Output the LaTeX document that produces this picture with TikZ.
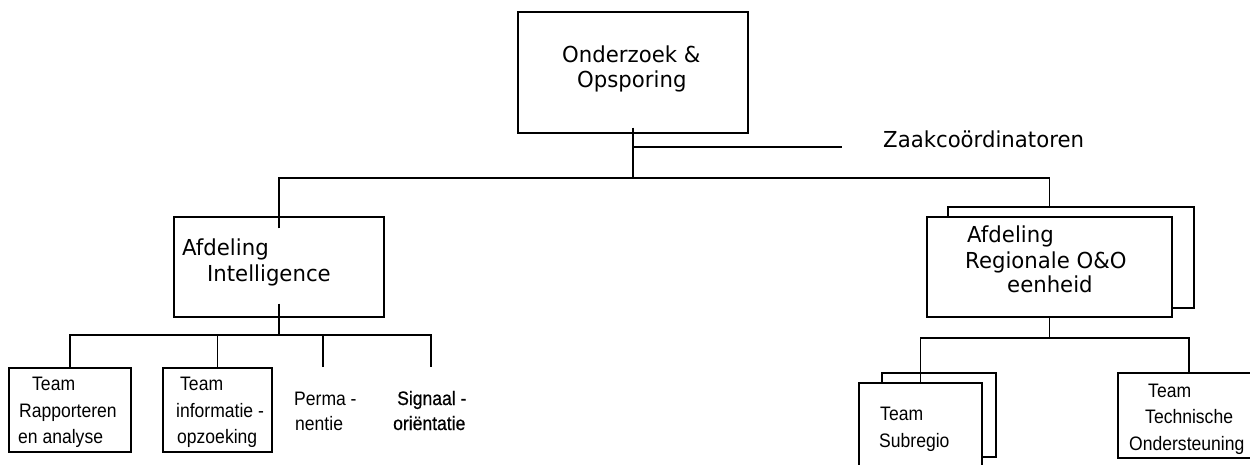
\documentclass[tikz,border=0pt]{standalone}
\usepackage{fontspec}
\setmainfont{DejaVu Sans}[FakeStretch=0.965]
\newfontfamily\arialf{Liberation Sans}[FakeStretch=0.9]
\newfontfamily\arialbf{Liberation Sans}[FakeStretch=0.9,FakeBold=0.6]
\tikzset{
  box/.style={draw, fill=white, line width=1.3pt, inner sep=0pt},
  lbl/.style={inner sep=0pt, anchor=base west, font=\fontsize{22}{25}\selectfont},
  albl/.style={inner sep=0pt, anchor=base west, font=\arialf\fontsize{19.5}{27}\selectfont},
  sbl/.style={inner sep=0pt, anchor=base west, font=\arialbf\fontsize{19.5}{27}\selectfont},
  conn/.style={line width=1.3pt},
}
\begin{document}
\begin{tikzpicture}[x=1pt,y=-1pt]
\fill[white] (0,0) rectangle (1250,465);
\clip (0,0) rectangle (1250,465);
% boxes
\node[box,minimum width=230pt,minimum height=121pt] (top) at (633,72.5) {};
\node[box,minimum width=210pt,minimum height=100pt] (A) at (279,267) {};
\node[box,minimum width=246pt,minimum height=101pt] (Rb) at (1071,257.5) {};
\node[box,minimum width=245pt,minimum height=100pt] (Rf) at (1049.5,267) {};
\node[box,minimum width=122pt,minimum height=84pt] (b1) at (70,410) {};
\node[box,minimum width=109pt,minimum height=84pt] (b2) at (217.5,410) {};
\node[box,minimum width=114pt,minimum height=84pt] (Sb) at (939,415) {};
\node[box,minimum width=123pt,minimum height=100pt] (Sf) at (920.5,433) {};
\node[box,minimum width=142pt,minimum height=85pt] (T) at (1189,415.5) {};
% junctions
\coordinate (j0) at (633,178);
\coordinate (jz) at (633,147);
\coordinate (zend) at (842,147);
\coordinate (jA) at (279,335);
\coordinate (pT) at (323,367);
\coordinate (sT) at (431,367);
\coordinate (jR) at (1049.5,338);
% connectors
\draw[conn] ([yshift=6pt]top.south) -- (j0);
\draw[conn] (jz) -- (zend);
\draw[conn] ([yshift=-12pt]A.north) |- (j0) -| (Rb.north -| Rf.north);
\draw[conn] ([yshift=14pt]A.south) -- (jA);
\draw[conn] (b1.north) |- (sT |- jA) -- (sT);
\draw[conn] (b2.north) -- (b2.north |- jA);
\draw[conn] (pT) -- (pT |- jA);
\draw[conn] (Rf.south) -- (jR);
\draw[conn] (Sf.north) |- (T.north |- jR) -- (T.north);
% texts
\node[lbl] (t1) at (562,63) {Onderzoek \&};
\node[lbl] (t2) at (577,88) {Opsporing};
\node[lbl] (zaak) at (883,148) {Zaakcoördinatoren};
\node[lbl] (a1) at (182,255.5) {Afdeling};
\node[lbl] (a2) at (207,281.5) {Intelligence};
\node[lbl] (r1) at (967,242) {Afdeling};
\node[lbl] (r2) at (965,268.5) {Regionale O\&O};
\node[lbl] (r3) at (1007,292) {eenheid};
\node[albl] (b1a) at (32,390) {Team};
\node[albl] (b1b) at (19,417) {Rapporteren};
\node[albl] (b1c) at (18,443) {en analyse};
\node[albl] (b2a) at (180,390) {Team};
\node[albl] (b2b) at (176,417) {informatie -};
\node[albl] (b2c) at (177,443) {opzoeking};
\node[albl] (p1) at (294,405) {Perma -};
\node[albl] (p2) at (295,430) {nentie};
\node[sbl] (s1) at (397,405) {Signaal -};
\node[sbl] (s2) at (393,430) {oriëntatie};
\node[albl] (sa) at (880,420) {Team};
\node[albl] (sb) at (879,447) {Subregio};
\node[albl] (ta) at (1148,397) {Team};
\node[albl] (tb) at (1145,423) {Technische};
\node[albl] (tc) at (1129,450) {Ondersteuning};
\end{tikzpicture}
\end{document}
